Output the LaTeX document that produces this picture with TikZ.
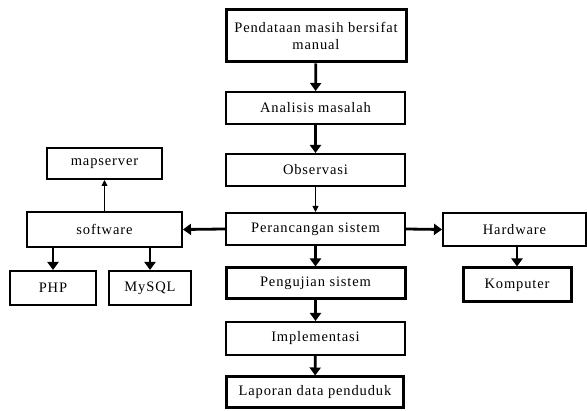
\documentclass[tikz,border=0pt]{standalone}
\usepackage{fontspec}
\setmainfont{Liberation Serif}[LetterSpace=6]
\usetikzlibrary{arrows.meta}
\begin{document}
\begin{tikzpicture}[x=1pt,y=-1pt,
  box/.style={draw,line width=2pt,rectangle,inner sep=0pt,align=center,font=\fontsize{14.5}{17}\selectfont},
  thickbox/.style={box,line width=3pt},
  arr/.style={line width=2.8pt,-{Triangle[width=11pt,length=8pt]}},
  thinarr/.style={line width=0.9pt,-{Triangle[width=6pt,length=6pt]}}
]
\useasboundingbox (0,0) rectangle (587,411);
\node[thickbox,minimum width=180pt,minimum height=52pt] (top) at (316,36) {Pendataan masih bersifat\\manual};
\node[box,minimum width=179pt,minimum height=32pt] (ana) at (315.5,108) {Analisis masalah};
\node[box,minimum width=179pt,minimum height=32pt] (obs) at (315.5,170) {Observasi};
\node[box,minimum width=179pt,minimum height=32pt] (per) at (315.5,229) {Perancangan sistem};
\node[thickbox,minimum width=179pt,minimum height=31pt] (pen) at (315.5,283.5) {Pengujian sistem};
\node[box,minimum width=179pt,minimum height=33pt] (imp) at (315.5,338.5) {Implementasi};
\node[thickbox,minimum width=177pt,minimum height=31pt] (lap) at (315,392.5) {Laporan data penduduk};
\node[box,minimum width=115pt,minimum height=31pt] (map) at (104.5,163.5) {mapserver};
\node[box,minimum width=155pt,minimum height=35pt] (sof) at (104.5,229.5) {software};
\node[box,minimum width=86pt,minimum height=34pt] (php) at (53,288) {PHP};
\node[box,minimum width=82pt,minimum height=34pt] (my) at (150,288) {MySQL};
\node[box,minimum width=143pt,minimum height=33pt] (hw) at (514.5,229.5) {Hardware};
\node[thickbox,minimum width=108pt,minimum height=34pt] (kom) at (517,285) {Komputer};
\draw[arr] (top) -- (ana);
\draw[arr] (ana) -- (obs);
\draw[thinarr] (obs) -- (per);
\draw[arr] (per) -- (pen);
\draw[arr] (pen) -- (imp);
\draw[arr] (imp) -- (lap);
\draw[arr] (per.west) -- (sof.east);
\draw[arr] (per.east) -- (hw.west);
\draw[thinarr] (sof.north) -- (map.south);
\draw[arr] (sof.south -| php) -- (php.north);
\draw[arr] (sof.south -| my) -- (my.north);
\draw[arr] (hw.south -| kom) -- (kom.north);
\end{tikzpicture}
\end{document}
